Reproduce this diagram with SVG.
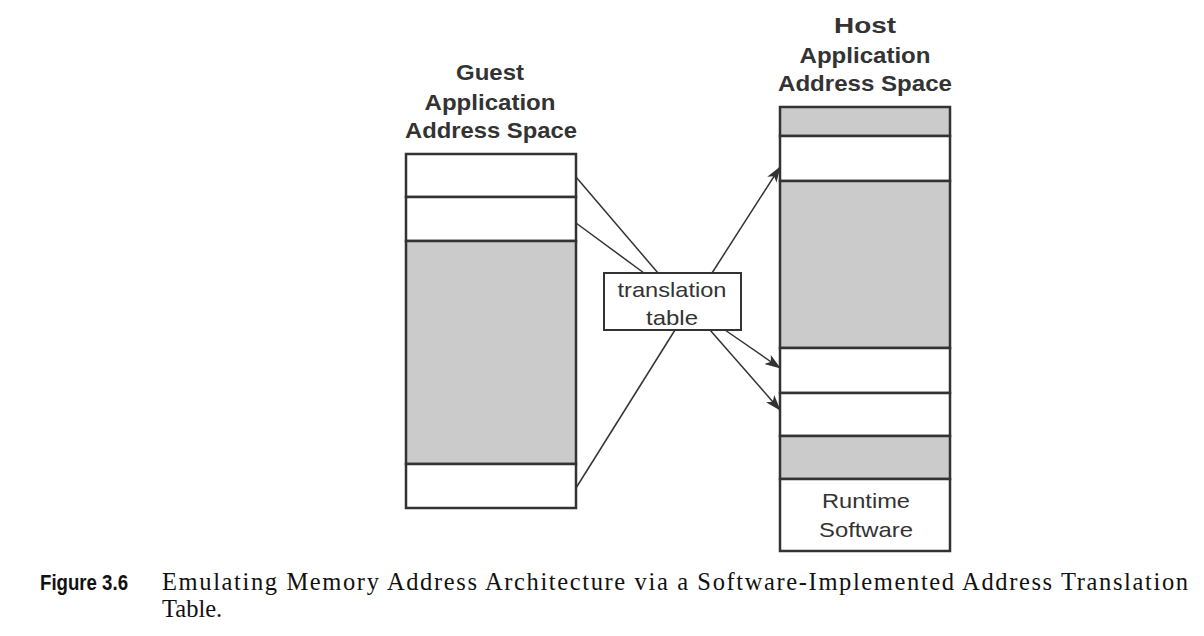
<svg xmlns="http://www.w3.org/2000/svg" width="1204" height="636" viewBox="0 0 1204 636">
<style>
  .hd { font-family: "Liberation Sans", Arial, sans-serif; font-weight: bold; font-size: 22px; fill: #333; text-anchor: middle; }
  .lb { font-family: "Liberation Sans", Arial, sans-serif; font-size: 21px; fill: #333; text-anchor: middle; }
  .cap { font-family: "Liberation Serif", "Times New Roman", serif; font-size: 24.5px; fill: #111; }
  .fig { font-family: "Liberation Sans", Arial, sans-serif; font-weight: bold; font-size: 22px; fill: #111; }
  .w { fill: #fff; stroke: #333; stroke-width: 2.5; }
  .g { fill: #cbcbcb; stroke: #333; stroke-width: 2.5; }
  .t { fill: #fff; stroke: #333; stroke-width: 2; }
  .c { stroke: #333; stroke-width: 1.5; fill: none; }
</style>
<defs>
  <marker id="ah" viewBox="0 0 16 11" refX="15" refY="5.5" markerWidth="16" markerHeight="11" markerUnits="userSpaceOnUse" orient="auto">
    <path d="M0,0 L16,5.5 L0,11 L4,5.5 Z" fill="#333"/>
  </marker>
</defs>
<rect width="1204" height="636" fill="#fff"/>

<g id="guest">
  <text class="hd" x="490" y="80" textLength="68" lengthAdjust="spacingAndGlyphs">Guest</text>
  <text class="hd" x="490" y="110" textLength="131" lengthAdjust="spacingAndGlyphs">Application</text>
  <text class="hd" x="491" y="138" textLength="172" lengthAdjust="spacingAndGlyphs">Address Space</text>
  <rect class="w" x="406" y="154" width="170" height="43"/>
  <rect class="w" x="406" y="197" width="170" height="44"/>
  <rect class="g" x="406" y="241" width="170" height="223"/>
  <rect class="w" x="406" y="464" width="170" height="44"/>
</g>

<g id="host">
  <text class="hd" x="865" y="33" textLength="62" lengthAdjust="spacingAndGlyphs">Host</text>
  <text class="hd" x="865" y="63" textLength="131" lengthAdjust="spacingAndGlyphs">Application</text>
  <text class="hd" x="865" y="91" textLength="174" lengthAdjust="spacingAndGlyphs">Address Space</text>
  <rect class="g" x="780" y="107" width="170" height="29"/>
  <rect class="w" x="780" y="136" width="170" height="45"/>
  <rect class="g" x="780" y="181" width="170" height="167"/>
  <rect class="w" x="780" y="348" width="170" height="45"/>
  <rect class="w" x="780" y="393" width="170" height="43"/>
  <rect class="g" x="780" y="436" width="170" height="43"/>
  <rect class="w" x="780" y="479" width="170" height="72"/>
  <text class="lb" x="866" y="508" textLength="88" lengthAdjust="spacingAndGlyphs">Runtime</text>
  <text class="lb" x="866" y="537" textLength="94" lengthAdjust="spacingAndGlyphs">Software</text>
</g>

<g id="table">
  <rect class="t" x="604" y="273" width="137" height="57"/>
  <text class="lb" x="672" y="297" textLength="109" lengthAdjust="spacingAndGlyphs">translation</text>
  <text class="lb" x="672" y="325" textLength="52" lengthAdjust="spacingAndGlyphs">table</text>
</g>

<g id="connectors">
  <line class="c" x1="576" y1="177" x2="658" y2="273"/>
  <line class="c" x1="576" y1="223" x2="644" y2="273"/>
  <line class="c" x1="576" y1="488" x2="675" y2="330"/>
  <line class="c" x1="712" y1="273" x2="780" y2="167" marker-end="url(#ah)"/>
  <line class="c" x1="725" y1="330" x2="780" y2="368" marker-end="url(#ah)"/>
  <line class="c" x1="710" y1="330" x2="780" y2="410" marker-end="url(#ah)"/>
</g>

<g id="caption">
  <text class="fig" x="40" y="590" textLength="88" lengthAdjust="spacingAndGlyphs">Figure 3.6</text>
  <text class="cap" x="162" y="590" textLength="1026" lengthAdjust="spacing">Emulating Memory Address Architecture via a Software-Implemented Address Translation</text>
  <text class="cap" x="162" y="617">Table.</text>
</g>
</svg>
